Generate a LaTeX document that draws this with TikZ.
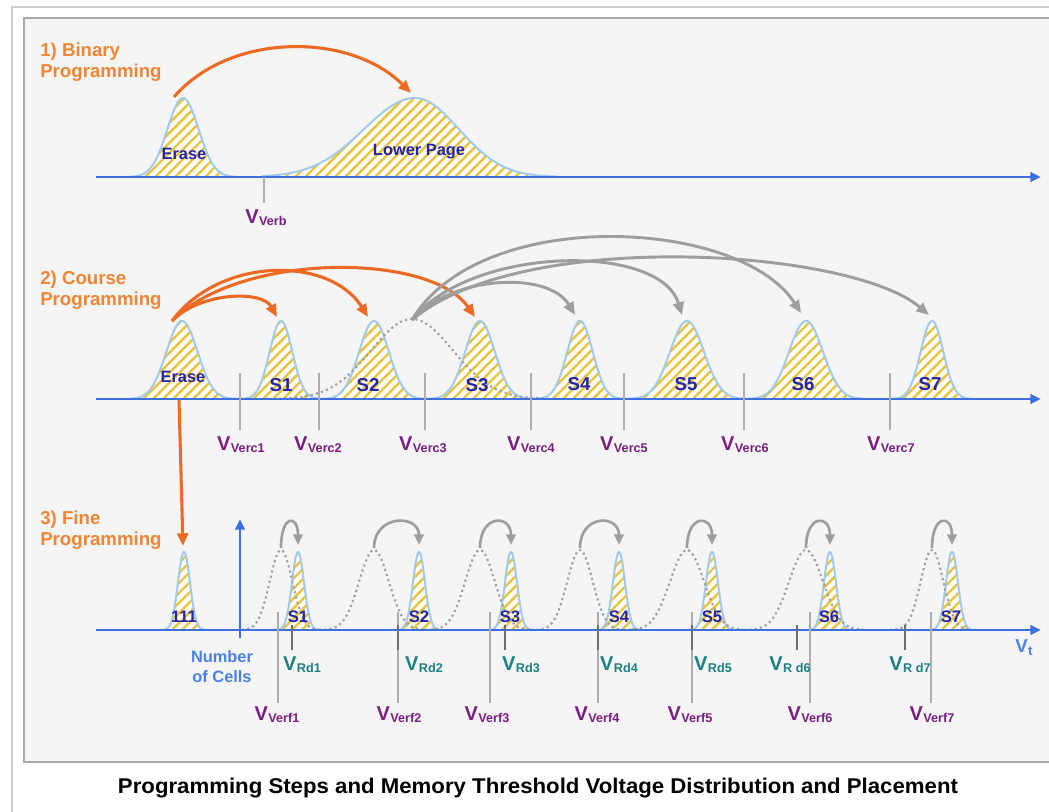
\documentclass[tikz,border=0pt]{standalone}
\usepackage{fontspec}
\setmainfont{Liberation Sans}
\usetikzlibrary{arrows.meta,patterns.meta}
\definecolor{panelbg}{HTML}{F5F5F5}
\definecolor{frameg}{HTML}{CBCBCB}
\definecolor{panelline}{HTML}{A9A9A9}
\definecolor{orng}{HTML}{EE6A22}
\definecolor{orngtxt}{HTML}{F08536}
\definecolor{distline}{HTML}{A2CAEC}
\definecolor{hatch}{HTML}{E9C43C}
\definecolor{axisblue}{HTML}{3D6FE2}
\definecolor{navy}{HTML}{2424A6}
\definecolor{purp}{HTML}{7A1E82}
\definecolor{tealc}{HTML}{1E8080}
\definecolor{tickg}{HTML}{AEAEAE}
\definecolor{rdtick}{HTML}{6E6E6E}
\definecolor{arrg}{HTML}{9E9E9E}
\definecolor{dotg}{HTML}{A0A0A0}
\definecolor{lblue}{HTML}{4A80E8}
\newcommand\gdist[7]{\draw[#1] plot[domain=#2:#3,samples=90] (\x,{#6-#5*exp(-((\x-#4)/#7)^2)});}
\newcommand\vsub[1]{V\kern0.3pt\raisebox{-1.4pt}{\fontsize{9.5}{10}\selectfont #1}}
\begin{document}
\begin{tikzpicture}[x=0.75pt,y=-0.75pt,
  dist/.style={draw=distline,line width=1.5pt,preaction={fill=white},
    pattern={Lines[angle=45,distance=5.3pt,line width=1.8pt]},pattern color=hatch},
  dotcurve/.style={draw=dotg,line width=1.6pt,dash pattern=on 1.6pt off 2.4pt},
  axisline/.style={draw=axisblue,line width=1.9pt,-{Triangle[length=8pt,width=7pt]}},
  oarrow/.style={draw=orng,line width=2.3pt,-{Triangle[length=9.5pt,width=8pt]}},
  garrow/.style={draw=arrg,line width=2.2pt,-{Triangle[length=9.5pt,width=8pt]}},
  sgarrow/.style={draw=arrg,line width=2pt,-{Triangle[length=8pt,width=7pt]}},
  tickline/.style={draw=tickg,line width=1.6pt},
  rdtickline/.style={draw=rdtick,line width=1.8pt},
  plab/.style={text=orngtxt,font=\fontsize{14}{16}\selectfont\bfseries,inner sep=0,anchor=base west},
  dlab/.style={text=navy,font=\fontsize{12.3}{14}\selectfont\bfseries,inner sep=0},
  slab/.style={text=navy,font=\fontsize{14}{16}\selectfont\bfseries,inner sep=0},
  flab/.style={text=navy,font=\fontsize{12.5}{14}\selectfont\bfseries,inner sep=0},
  vlab/.style={text=purp,font=\fontsize{15}{17}\selectfont\bfseries,inner sep=0},
  rdlab/.style={text=tealc,font=\fontsize{15}{17}\selectfont\bfseries,inner sep=0},
  bluelab/.style={text=lblue,font=\fontsize{12.3}{15}\selectfont\bfseries,inner sep=0}
]
\useasboundingbox (0,0) rectangle (1049,812);
\fill[white] (0,0) rectangle (1049,812);
\draw[frameg,line width=1.2pt] (12,812) -- (12,7) -- (1052,7);
\draw[panelline,line width=1.5pt,fill=panelbg] (24,18) rectangle (1060,762);

% ---------- Panel 1 ----------
\node[plab] (t1a) at (40,57) {1) Binary};
\node[plab] (t1b) at (40,78) {Programming};
\gdist{dist}{128}{236}{183}{79}{177}{22}
\gdist{dist}{262}{557}{415}{79}{177}{(\x<415?72:62)}
\coordinate (a1s) at (96,177);
\coordinate (a1e) at (1041,177);
\draw[axisline] (a1s) -- (a1e);
\draw[tickline] (264,177) -- (264,203);
\node[vlab] (vverb) at (266,218) {\vsub{Verb}};
\node[dlab] (e1) at (184,154) {Erase};
\node[dlab] (lp) at (419,152) {Lower Page};
\coordinate (o1s) at (174,97);
\coordinate (o1e) at (411,93);
\draw[oarrow] (o1s) .. controls (230,32) and (350,32) .. (o1e);

% ---------- Panel 2 ----------
\node[plab] (t2a) at (40,285) {2) Course};
\node[plab] (t2b) at (40,306) {Programming};
\gdist{dist}{126}{238}{182}{78}{399}{22}
\gdist{dist}{240}{320}{281}{78}{399}{16}
\gdist{dist}{319}{427}{374}{78}{399}{21}
\gdist{dist}{425}{534}{480}{78}{399}{21}
\gdist{dist}{531}{626}{580}{78}{399}{18}
\gdist{dist}{624}{746}{687}{78}{399}{24}
\gdist{dist}{744}{864}{806}{78}{399}{24}
\gdist{dist}{890}{973}{932}{78}{399}{16}
\gdist{dotcurve}{263}{556}{412}{80}{399}{58}
\coordinate (a2s) at (96,399);
\coordinate (a2e) at (1041,399);
\draw[axisline] (a2s) -- (a2e);
\foreach \t in {240,319,425,531,624,744,890}{\draw[tickline] (\t,373) -- (\t,430);}
\node[dlab] (e2) at (183,377) {Erase};
\node[slab] (s21) at (281,385) {S1};
\node[slab] (s22) at (368,385) {S2};
\node[slab] (s23) at (477,385) {S3};
\node[slab] (s24) at (579,384) {S4};
\node[slab] (s25) at (686,384) {S5};
\node[slab] (s26) at (803,384) {S6};
\node[slab] (s27) at (930,384) {S7};
\node[vlab] (vc1) at (241,445) {\vsub{Verc1}};
\node[vlab] (vc2) at (318,445) {\vsub{Verc2}};
\node[vlab] (vc3) at (423,445) {\vsub{Verc3}};
\node[vlab] (vc4) at (531,445) {\vsub{Verc4}};
\node[vlab] (vc5) at (624,445) {\vsub{Verc5}};
\node[vlab] (vc6) at (745,445) {\vsub{Verc6}};
\node[vlab] (vc7) at (891,445) {\vsub{Verc7}};
% orange arrows
\coordinate (o2s) at (172,321);
\coordinate (p21) at (277,317);
\coordinate (p22) at (368,317);
\coordinate (p23) at (475,317);
\draw[oarrow] (o2s) .. controls (200,292) and (262,290) .. (p21);
\draw[oarrow] (o2s) .. controls (220,256) and (330,256) .. (p22);
\draw[oarrow] (o2s) .. controls (240,252) and (430,252) .. (p23);
% gray arrows
\coordinate (g2s) at (412,320);
\coordinate (p24) at (575,315);
\coordinate (p25) at (682,315);
\coordinate (p26) at (801,313);
\coordinate (p27) at (929,315);
\draw[garrow] (g2s) .. controls (450,276) and (548,270) .. (p24);
\draw[garrow] (g2s) .. controls (470,246) and (660,242) .. (p25);
\draw[garrow] (g2s) .. controls (480,205) and (740,218) .. (p26);
\draw[garrow] (g2s) .. controls (520,228) and (850,248) .. (p27);
% orange down arrow
\coordinate (o3s) at (179,400);
\coordinate (o3e) at (183,546);
\draw[oarrow] (o3s) -- (o3e);

% ---------- Panel 3 ----------
\node[plab] (t3a) at (40,524) {3) Fine};
\node[plab] (t3b) at (40,545) {Programming};
\gdist{dist}{162}{206}{184}{78}{630}{8.5}
\foreach \m in {298,419,511,619,712,830,952}{\gdist{dist}{\m-22}{\m+22}{\m}{78}{630}{8.5}}
\gdist{dotcurve}{242}{320}{281}{80}{630}{16}
\gdist{dotcurve}{319}{427}{374}{80}{630}{21}
\gdist{dotcurve}{425}{534}{480}{80}{630}{21}
\gdist{dotcurve}{531}{626}{580}{80}{630}{18}
\gdist{dotcurve}{624}{746}{687}{80}{630}{24}
\gdist{dotcurve}{744}{864}{806}{80}{630}{24}
\gdist{dotcurve}{890}{973}{932}{80}{630}{16}
\coordinate (a3s) at (96,630);
\coordinate (a3e) at (1041,630);
\draw[axisline] (a3s) -- (a3e);
\coordinate (ya1) at (240,638);
\coordinate (ya2) at (240,519);
\draw[axisline,line width=2.2pt] (ya1) -- (ya2);
\foreach \t in {278,398,490,598,692,810,931}{\draw[tickline] (\t,612) -- (\t,703);}
\foreach \t in {292,398,505,598,692,797,905}{\draw[rdtickline] (\t,625) -- (\t,650);}
\node[flab] (s30) at (184,617) {111};
\node[flab] (s31) at (298,617) {S1};
\node[flab] (s32) at (419,617) {S2};
\node[flab] (s33) at (510,617) {S3};
\node[flab] (s34) at (619,617) {S4};
\node[flab] (s35) at (712,617) {S5};
\node[flab] (s36) at (829,617) {S6};
\node[flab] (s37) at (951,617) {S7};
\node[rdlab] (r1) at (302,665) {\vsub{Rd1}};
\node[rdlab] (r2) at (424,665) {\vsub{Rd2}};
\node[rdlab] (r3) at (521,665) {\vsub{Rd3}};
\node[rdlab] (r4) at (619,665) {\vsub{Rd4}};
\node[rdlab] (r5) at (713,665) {\vsub{Rd5}};
\node[rdlab] (r6) at (790,665) {\vsub{R d6}};
\node[rdlab] (r7) at (910,665) {\vsub{R d7}};
\node[vlab] (f1) at (277,715) {\vsub{Verf1}};
\node[vlab] (f2) at (399,715) {\vsub{Verf2}};
\node[vlab] (f3) at (487,715) {\vsub{Verf3}};
\node[vlab] (f4) at (597,715) {\vsub{Verf4}};
\node[vlab] (f5) at (690,715) {\vsub{Verf5}};
\node[vlab] (f6) at (810,715) {\vsub{Verf6}};
\node[vlab] (f7) at (932,715) {\vsub{Verf7}};
\node[bluelab,align=center] (noc) at (222,667) {Number\\of Cells};
\node[bluelab,font=\fontsize{14}{16}\selectfont\bfseries] (vt) at (1024,648) {V\kern0.3pt\raisebox{-2.2pt}{\fontsize{10}{11}\selectfont t}};
% small gray arrows
\foreach \c/\f [count=\i] in {281/298,374/419,480/511,580/619,687/712,806/830,932/952}{
  \coordinate (cs\i) at (\c,548);
  \coordinate (ce\i) at (\f,545);
  \draw[sgarrow] (cs\i) .. controls (\c,514) and (\f,514) .. (ce\i);
}

% ---------- Title ----------
\node[inner sep=0] (title) at (538,788) {\resizebox{630pt}{\height}{\fontsize{16}{19}\selectfont\bfseries Programming Steps and Memory Threshold Voltage Distribution and Placement}};
\end{tikzpicture}
\end{document}
